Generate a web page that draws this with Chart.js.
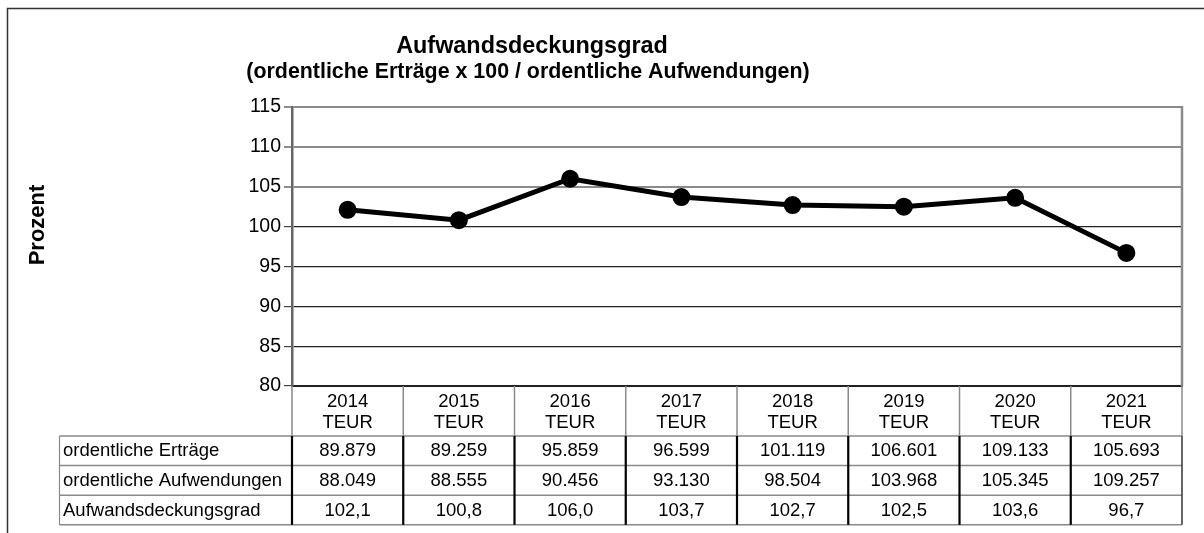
<!DOCTYPE html>
<html><head><meta charset="utf-8">
<script src="https://cdn.jsdelivr.net/npm/chart.js@4.4.1/dist/chart.umd.min.js"></script>
<style>html,body{margin:0;padding:0;background:#fff;overflow:hidden}canvas{display:block}</style>
</head><body>
<canvas id="c" width="1204" height="533"></canvas>
<script>
// ---- data ----
const years = ['2014', '2015', '2016', '2017', '2018', '2019', '2020', '2021'];
const unitLabel = 'TEUR';
const rowLabels = ['ordentliche Erträge', 'ordentliche Aufwendungen', 'Aufwandsdeckungsgrad'];
const ertraege = [89879, 89259, 95859, 96599, 101119, 106601, 109133, 105693];
const aufwendungen = [88049, 88555, 90456, 93130, 98504, 103968, 105345, 109257];
const deckungsgrad = [102.1, 100.8, 106.0, 103.7, 102.7, 102.5, 103.6, 96.7];
const yMin = 80, yMax = 115, yStep = 5;
const titleText = 'Aufwandsdeckungsgrad';
const subtitleText = '(ordentliche Erträge x 100 / ordentliche Aufwendungen)';
const yAxisTitle = 'Prozent';

const FONT = '"Liberation Sans", Arial, Helvetica, sans-serif';
const fmtInt = n => String(n).replace(/\B(?=(\d{3})+(?!\d))/g, '.');
const fmtDec = v => v.toFixed(1).replace('.', ',');
const tableRows = [ertraege.map(fmtInt), aufwendungen.map(fmtInt), deckungsgrad.map(fmtDec)];

const decorPlugin = {
  id: 'decor',
  beforeDraw(chart) {
    const ctx = chart.ctx;
    ctx.save();
    ctx.fillStyle = '#fff';
    ctx.fillRect(0, 0, chart.width, chart.height);
    // outer frame
    ctx.strokeStyle = '#333';
    ctx.lineWidth = 1.5;
    ctx.strokeRect(7.5, 8.5, 1300, 600);
    // titles
    ctx.fillStyle = '#000';
    ctx.textAlign = 'center';
    ctx.textBaseline = 'middle';
    ctx.font = 'bold 23.4px ' + FONT;
    ctx.fillText(titleText, 532, 47);
    ctx.font = 'bold 21.4px ' + FONT;
    ctx.fillText(subtitleText, 528, 72);
    // y axis title
    ctx.translate(38, 225);
    ctx.rotate(-Math.PI / 2);
    ctx.font = 'bold 22px ' + FONT;
    ctx.fillText(yAxisTitle, 0, 0);
    ctx.restore();
  },
  beforeDatasetsDraw(chart) {
    const {ctx, chartArea: ca} = chart;
    ctx.save();
    ctx.strokeStyle = '#8a8a8a';
    ctx.lineWidth = 2.5;
    ctx.beginPath();
    ctx.moveTo(ca.right, ca.top - 1);
    ctx.lineTo(ca.right, ca.bottom);
    ctx.stroke();
    ctx.restore();
  },
  afterDraw(chart) {
    const {ctx, chartArea: ca, scales: {x}} = chart;
    const n = years.length;
    const step = x.getPixelForValue(1) - x.getPixelForValue(0);
    const bounds = [];
    for (let i = 0; i <= n; i++) bounds.push(x.getPixelForValue(0) - step / 2 + i * step);
    const hTop = ca.bottom, hBot = hTop + 50, rowH = 29.6;
    const tLeft = 59.5;
    const rowTops = [hBot, hBot + rowH, hBot + 2 * rowH, hBot + 3 * rowH];
    ctx.save();
    // header verticals (thin gray)
    ctx.strokeStyle = '#8a8a8a';
    ctx.lineWidth = 1.5;
    for (let i = 0; i <= n; i++) {
      ctx.beginPath();
      ctx.moveTo(bounds[i], hTop);
      ctx.lineTo(bounds[i], hBot);
      ctx.stroke();
    }
    // horizontal row lines
    rowTops.forEach(y => {
      ctx.beginPath();
      ctx.moveTo(tLeft, y);
      ctx.lineTo(bounds[n], y);
      ctx.stroke();
    });
    // left label border
    ctx.lineWidth = 1.2;
    ctx.beginPath();
    ctx.moveTo(tLeft, hBot);
    ctx.lineTo(tLeft, rowTops[3]);
    ctx.stroke();
    // data verticals (thick black)
    for (let i = 0; i <= n; i++) {
      ctx.lineWidth = i === n ? 1.5 : 2.2;
      ctx.strokeStyle = i === n ? '#333' : '#000';
      ctx.beginPath();
      ctx.moveTo(bounds[i], hBot);
      ctx.lineTo(bounds[i], rowTops[3]);
      ctx.stroke();
    }
    // header text
    ctx.fillStyle = '#000';
    ctx.textAlign = 'center';
    ctx.textBaseline = 'middle';
    ctx.font = '18.5px ' + FONT;
    for (let i = 0; i < n; i++) {
      const cx = x.getPixelForValue(i);
      ctx.fillText(years[i], cx, hTop + 16);
      ctx.fillText(unitLabel, cx, hTop + 37);
    }
    // rows
    for (let r = 0; r < tableRows.length; r++) {
      const cy = rowTops[r] + rowH / 2 + 0.5;
      ctx.textAlign = 'left';
      ctx.fillText(rowLabels[r], tLeft + 3.5, cy);
      ctx.textAlign = 'center';
      for (let i = 0; i < n; i++) ctx.fillText(tableRows[r][i], x.getPixelForValue(i), cy);
    }
    ctx.restore();
  }
};

new Chart(document.getElementById('c'), {
  type: 'line',
  data: {
    labels: years,
    datasets: [{
      label: 'Aufwandsdeckungsgrad',
      data: deckungsgrad,
      borderColor: '#000',
      backgroundColor: '#000',
      borderWidth: 5,
      pointRadius: 6.5,
      pointHoverRadius: 6.5,
      pointBackgroundColor: '#000',
      pointBorderColor: '#000',
      tension: 0,
      fill: false
    }]
  },
  options: {
    responsive: false,
    animation: false,
    devicePixelRatio: 1,
    layout: {padding: {top: 107, right: 22, bottom: 147, left: 0}},
    plugins: {legend: {display: false}, tooltip: {enabled: false}, title: {display: false}},
    scales: {
      x: {
        type: 'category',
        offset: true,
        grid: {display: false, drawTicks: false},
        ticks: {display: false},
        border: {display: true, color: '#222', width: 2},
        afterFit: s => { s.height = 0; }
      },
      y: {
        min: yMin, max: yMax,
        ticks: {stepSize: yStep, color: '#000', font: {family: FONT, size: 19.5}, padding: 3},
        grid: {
          color: c => (c.tick && c.tick.value >= 105) ? '#8a8a8a' : '#222',
          lineWidth: c => (c.tick && c.tick.value >= 105) ? 2 : 1.2,
          tickColor: '#444',
          tickLength: 8,
          tickWidth: 1.2
        },
        border: {display: true, color: '#666', width: 2.5},
        afterFit: s => { s.width = 292; }
      }
    }
  },
  plugins: [decorPlugin]
});
</script>
</body></html>
